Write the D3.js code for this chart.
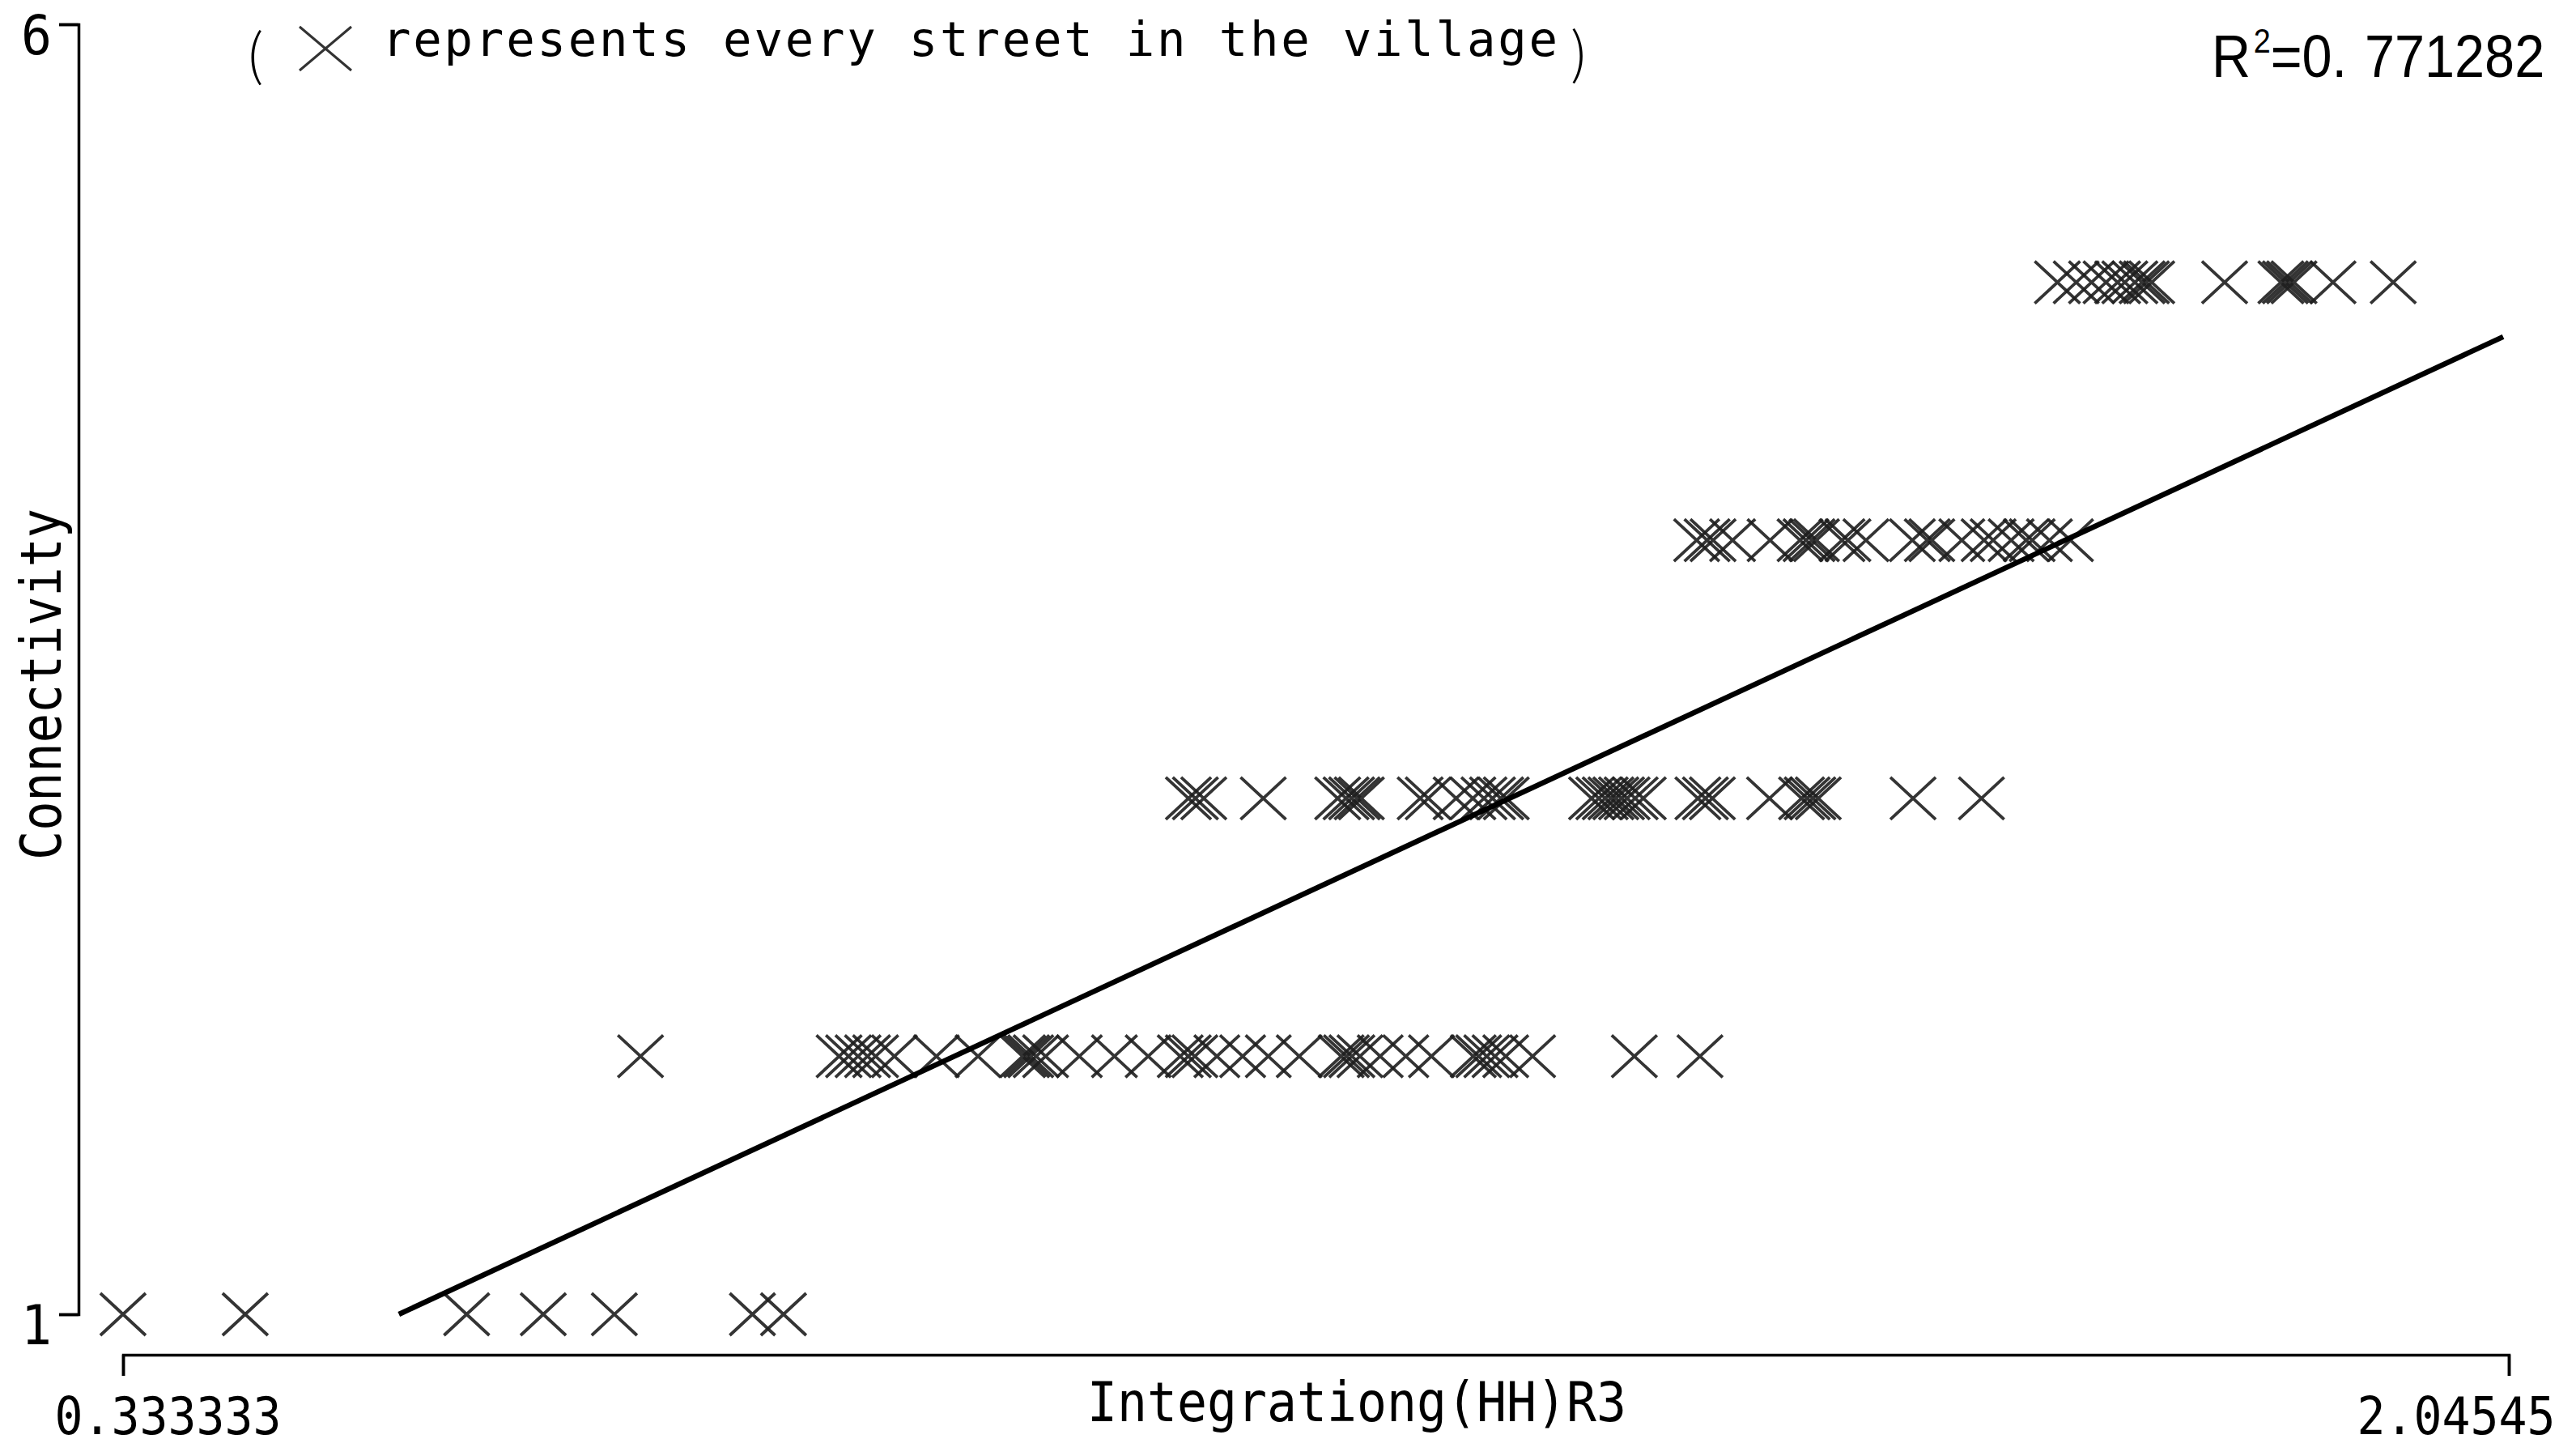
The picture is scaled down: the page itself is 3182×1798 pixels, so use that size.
<!DOCTYPE html>
<html>
<head>
<meta charset="utf-8">
<script src="https://cdn.jsdelivr.net/npm/d3@7"></script>
<style>
  body { margin: 0; background: white; }
</style>
</head>
<body>
<div id="chart"></div>
<script>
// integration (HH) R3 value of every street, grouped by connectivity
var conn_levels = [1, 2, 3, 4, 5];
var integ_conn1 = [0.3333, 0.4210, 0.5799, 0.6349, 0.6859, 0.7850, 0.8073];
var integ_conn2 = [0.7047, 0.8472, 0.8540, 0.8608, 0.8676, 0.8734, 0.8869, 0.9170, 0.9469,
  0.9789, 0.9818, 0.9847, 0.9886, 0.9954, 1.0196, 1.0448, 1.0690, 1.0920, 1.0978, 1.1025,
  1.1183, 1.1368, 1.1552, 1.1774, 1.2075, 1.2113, 1.2152, 1.2210, 1.2355, 1.2539, 1.2723,
  1.3023, 1.3062, 1.3120, 1.3179, 1.3256, 1.3449, 1.4179, 1.4650];
var integ_conn3 = [1.0979, 1.1029, 1.1089, 1.1516, 1.2050, 1.2110, 1.2150, 1.2190, 1.2220,
  1.2642, 1.2700, 1.2900, 1.3020, 1.3100, 1.3161, 1.3220, 1.3260, 1.3872, 1.3924, 1.3970,
  1.4011, 1.4046, 1.4087, 1.4127, 1.4185, 1.4243, 1.4635, 1.4689, 1.4739, 1.5149, 1.5379,
  1.5419, 1.5460, 1.5499, 1.6179, 1.6670];
var integ_conn4 = [1.4626, 1.4701, 1.4744, 1.4884, 1.5153, 1.5368, 1.5411, 1.5454, 1.5486,
  1.5669, 1.5712, 1.5841, 1.6174, 1.6281, 1.6314, 1.6529, 1.6689, 1.6754, 1.6883, 1.6991,
  1.7034, 1.7158, 1.7309];
var integ_conn5 = [1.7215, 1.7350, 1.7460, 1.7564, 1.7647, 1.7699, 1.7771, 1.7823, 1.7854,
  1.7892, 1.8415, 1.8819, 1.8851, 1.8881, 1.8913, 1.9193, 1.9625];

// regression line (clipped at connectivity = 1)
var fit_x = [0.5313, 2.0414];
var fit_y = [1, 4.789];
var r_squared = "0.771282";

var x_ticks = [0.333333, 2.04545];
var x_tick_labels = ["0.333333", "2.04545"];
var y_ticks = [1, 6];
var y_tick_labels = ["1", "6"];

var x_title = "Integrationg(HH)R3";
var y_title = "Connectivity";
var note_text = "represents every street in the village";

class SCATTER {
  constructor(target_div_id, w, h)
  {
    this.target_div = target_div_id;
    this.w = w;
    this.h = h;
    this.SVG = "None";
    this.SVG_main_group;
    this.mono = "'DejaVu Sans Mono', monospace";
  }

  baseSVG()
  {
    this.SVG = d3.select("#".concat(this.target_div))
      .append("svg")
        .attr("width", this.w)
        .attr("height", this.h)
        .attr("id", this.target_div.concat("_svg"));

    this.SVG_main_group = this.SVG.append("g").attr("id", this.target_div.concat("_group"));

    this.SVG_main_group.append("rect")
      .attr("width", this.w)
      .attr("height", this.h)
      .attr("fill", "White");
  }

  writeAxes(xscale, yscale)
  {
    var mono = this.mono;

    var yAxis = d3.axisLeft(yscale)
      .tickValues(y_ticks)
      .tickSize(24)
      .tickSizeOuter(24)
      .tickFormat(function(d, i){ return y_tick_labels[i]; });

    var gy = this.SVG_main_group.append("g")
      .attr("transform", "translate(97,0)")
      .call(yAxis);
    gy.selectAll("path, line").attr("stroke", "black").attr("stroke-width", 3.5);
    gy.selectAll("text")
      .attr("x", -71)
      .attr("dy", null)
      .attr("y", 36)
      .attr("text-anchor", "start")
      .attr("textLength", 38)
      .attr("lengthAdjust", "spacingAndGlyphs")
      .style("font-family", mono)
      .style("font-size", "68px")
      .style("fill", "black");

    var xAxis = d3.axisBottom(xscale)
      .tickValues(x_ticks)
      .tickSize(26)
      .tickSizeOuter(26)
      .tickFormat(function(d, i){ return x_tick_labels[i]; });

    var gx = this.SVG_main_group.append("g")
      .attr("transform", "translate(0,1673)")
      .call(xAxis);
    gx.selectAll("path, line").attr("stroke", "black").attr("stroke-width", 3.5);
    // both labels start left of their tick, the right one ends past its tick
    gx.selectAll("text")
      .attr("dy", null)
      .attr("y", 98)
      .attr("x", function(d, i){ return i == 0 ? -85 : -188; })
      .attr("text-anchor", "start")
      .attr("textLength", function(d, i){ return x_tick_labels[i].length * 35; })
      .attr("lengthAdjust", "spacingAndGlyphs")
      .style("font-family", mono)
      .style("font-size", "64px")
      .style("fill", "black");
  }

  writeCrosses(points, xscale, yscale)
  {
    // one X per street
    this.SVG_main_group.append("g")
      .selectAll("path")
      .data(points)
      .enter()
      .append("path")
        .attr("transform", function(d){ return "translate(" + xscale(d.x) + "," + yscale(d.y) + ")"; })
        .attr("d", "M-28,-26L28,26M-28,26L28,-26")
        .attr("fill", "none")
        .attr("stroke", "#1e1e1e")
        .attr("stroke-opacity", 0.9)
        .attr("stroke-width", 3.8);
  }

  writeFit(xscale, yscale)
  {
    var line = d3.line()
      .x(function(d){ return xscale(d[0]); })
      .y(function(d){ return yscale(d[1]); });

    this.SVG_main_group.append("path")
      .datum(d3.zip(fit_x, fit_y))
      .attr("d", line)
      .attr("fill", "none")
      .attr("stroke", "black")
      .attr("stroke-width", 6.5);
  }

  writeLabels()
  {
    var g = this.SVG_main_group;
    var mono = this.mono;

    g.append("text")
      .attr("x", 1343)
      .attr("y", 1755)
      .attr("textLength", 666)
      .attr("lengthAdjust", "spacingAndGlyphs")
      .style("font-family", mono)
      .style("font-size", "68px")
      .style("fill", "black")
      .text(x_title);

    g.append("text")
      .attr("transform", "translate(75,1062) rotate(-90)")
      .attr("textLength", 434)
      .attr("lengthAdjust", "spacingAndGlyphs")
      .style("font-family", mono)
      .style("font-size", "70px")
      .style("fill", "black")
      .text(y_title);

    // note at the top: ( X represents every street in the village)
    var paren_font = "'Noto Sans CJK SC', 'DejaVu Sans', sans-serif";
    g.append("text")
      .attr("x", 304)
      .attr("y", 92)
      .style("font-family", paren_font)
      .style("font-weight", 300)
      .style("font-size", "68px")
      .style("fill", "black")
      .text("(");

    g.append("path")
      .attr("transform", "translate(402,60)")
      .attr("d", "M-32,-27L32,27M-32,27L32,-27")
      .attr("fill", "none")
      .attr("stroke", "#333")
      .attr("stroke-width", 3);

    g.append("text")
      .attr("x", 472)
      .attr("y", 69)
      .attr("textLength", 1452)
      .attr("lengthAdjust", "spacing")
      .style("font-family", mono)
      .style("font-size", "59px")
      .style("fill", "black")
      .text(note_text);

    g.append("text")
      .attr("x", 1940)
      .attr("y", 90)
      .style("font-family", paren_font)
      .style("font-weight", 300)
      .style("font-size", "68px")
      .style("fill", "black")
      .text(")");

    // R squared, top right
    var rg = g.append("g").attr("transform", "translate(2732,95) scale(0.9,1)");
    var rt = rg.append("text")
      .style("font-family", "'Liberation Sans', Arial, sans-serif")
      .style("font-size", "74px")
      .style("fill", "black");
    rt.append("tspan").text("R");
    rt.append("tspan").attr("dx", 4).attr("dy", -30).style("font-size", "42px").text("2");
    rt.append("tspan").attr("dy", 30).text("=" + r_squared.slice(0, 2));
    rt.append("tspan").attr("x", 210).text(r_squared.slice(2));
  }
}

var xscale = d3.scaleLinear().domain([x_ticks[0], x_ticks[1]]).range([152, 3099]);
var yscale = d3.scaleLinear().domain([y_ticks[0], y_ticks[1]]).range([1623, 30]);

var groups = [integ_conn1, integ_conn2, integ_conn3, integ_conn4, integ_conn5];
var points = [];
for(var p = 0; p < groups.length; p++)
{
  for(var q = 0; q < groups[p].length; q++)
  {
    points.push({x: groups[p][q], y: conn_levels[p]});
  }
}

var plot = new SCATTER("chart", 3182, 1798);
plot.baseSVG();
plot.writeAxes(xscale, yscale);
plot.writeCrosses(points, xscale, yscale);
plot.writeFit(xscale, yscale);
plot.writeLabels();
</script>
</body>
</html>
